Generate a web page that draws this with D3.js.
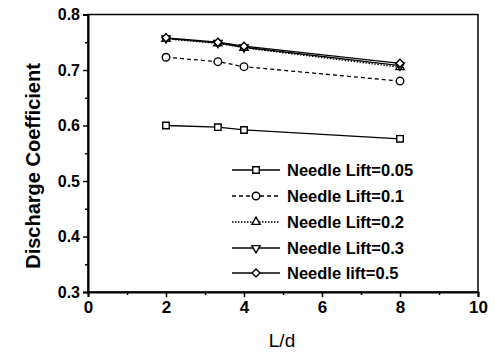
<!DOCTYPE html>
<html><head><meta charset="utf-8">
<script src="https://cdn.jsdelivr.net/npm/d3@7/dist/d3.min.js"></script>
<style>body{margin:0;background:#fff;} svg{display:block;} text{font-family:"Liberation Sans",Arial,sans-serif;}</style>
</head><body>
<svg id="c" width="495" height="353"></svg>
<script>
const ldValues = [2, 3.33, 4, 8];
const seriesNames = ["Needle Lift=0.05","Needle Lift=0.1","Needle Lift=0.2","Needle Lift=0.3","Needle lift=0.5"];
const lift005 = [0.600, 0.597, 0.592, 0.576];
const lift01  = [0.723, 0.715, 0.706, 0.680];
const lift02  = [0.756, 0.748, 0.740, 0.705];
const lift03  = [0.757, 0.749, 0.741, 0.708];
const lift05  = [0.758, 0.750, 0.743, 0.712];
const xTicks = [0, 2, 4, 6, 8, 10];
const yTicks = [0.3, 0.4, 0.5, 0.6, 0.7, 0.8];

const seriesValues = [lift005, lift01, lift02, lift03, lift05];
const dashes = [null, "4,3", "1.5,1.5", null, null];
const symbols = ["square", "circle", "up", "down", "diamond"];

const svg = d3.select("#c");
const x = d3.scaleLinear().domain([0,10]).range([88,478]);
const y = d3.scaleLinear().domain([0.3,0.8]).range([292,14.5]);

svg.append("rect").attr("x",88).attr("y",14.5).attr("width",390).attr("height",277.5)
  .attr("fill","none").attr("stroke","#000").attr("stroke-width",1.5);

const xAxis = svg.append("g").attr("transform","translate(0,292)")
  .call(d3.axisBottom(x).tickValues(xTicks).tickFormat(d3.format("d")).tickSize(5).tickPadding(4));
svg.append("g").attr("transform","translate(0,292)")
  .call(d3.axisBottom(x).tickValues(d3.range(1,10,2)).tickFormat("").tickSize(3))
  .select(".domain").remove();
const yAxis = svg.append("g").attr("transform","translate(88,0)")
  .call(d3.axisLeft(y).tickValues(yTicks).tickFormat(d3.format(".1f")).tickSize(5).tickPadding(3));
svg.append("g").attr("transform","translate(88,0)")
  .call(d3.axisLeft(y).tickValues([0.35,0.45,0.55,0.65,0.75]).tickFormat("").tickSize(3))
  .select(".domain").remove();
svg.selectAll(".domain").attr("stroke-width",2);
svg.selectAll(".tick line").attr("stroke-width",1.5);
xAxis.selectAll("text").attr("font-size",17).attr("font-weight","bold").attr("fill","#000");
yAxis.selectAll("text").attr("font-size",16).attr("font-weight","bold").attr("fill","#000");

svg.append("text").attr("transform","translate(40,166) rotate(-90)").attr("text-anchor","middle")
  .attr("font-size",20).attr("font-weight","bold").text("Discharge Coefficient");
svg.append("text").attr("x",282).attr("y",347).attr("text-anchor","middle")
  .attr("font-size",19).text("L/d");

function marker(g, idx, cx, cy){
  const s = symbols[idx];
  let t, size, rot = 0;
  if (s === "square") { t = d3.symbolSquare; size = 42; }
  else if (s === "circle") { t = d3.symbolCircle; size = 45; }
  else if (s === "up") { t = d3.symbolTriangle; size = 30; }
  else if (s === "down") { t = d3.symbolTriangle; size = 30; rot = 180; }
  else { t = d3.symbolSquare; size = 32; rot = 45; }
  g.append("path").attr("d",d3.symbol().type(t).size(size)())
    .attr("transform",`translate(${cx},${cy}) rotate(${rot})`)
    .attr("fill","#fff").attr("stroke","#000").attr("stroke-width",1.4);
}

const line = d3.line().x((d,i)=>x(ldValues[i])).y(d=>y(d));
seriesValues.forEach((vals,k)=>{
  const g = svg.append("g");
  g.append("path").datum(vals).attr("d",line).attr("fill","none").attr("stroke","#000")
    .attr("stroke-width",1.3).attr("stroke-dasharray",dashes[k]);
  vals.forEach((v,i)=>marker(g,k,x(ldValues[i]),y(v)));
});

const legY = [170, 196, 222, 248, 273];
seriesNames.forEach((name,k)=>{
  const g = svg.append("g");
  g.append("line").attr("x1",232).attr("x2",280).attr("y1",legY[k]).attr("y2",legY[k])
    .attr("stroke","#000").attr("stroke-width",1.3).attr("stroke-dasharray",dashes[k]);
  marker(g,k,256,legY[k]);
  g.append("text").attr("x",287).attr("y",legY[k]+6).attr("font-size",16.5).attr("font-weight","bold").text(name);
});
</script>
</body></html>
